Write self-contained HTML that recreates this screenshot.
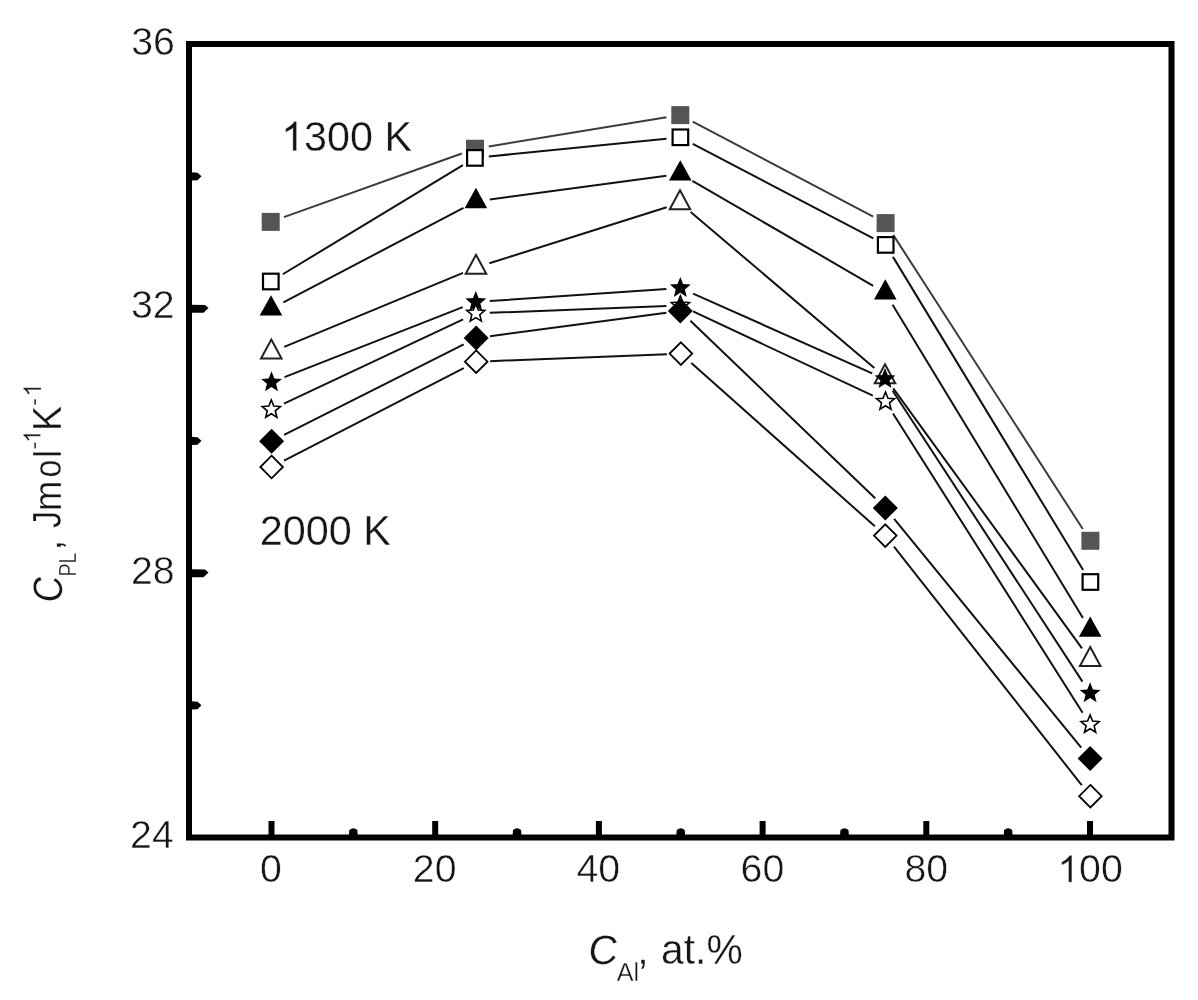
<!DOCTYPE html>
<html><head><meta charset="utf-8"><style>
html,body{margin:0;padding:0;background:#fff;}
svg{display:block;will-change:transform;}
text{font-family:"Liberation Sans",sans-serif;}
</style></head><body>
<svg width="1198" height="1000" viewBox="0 0 1198 1000">
<rect width="1198" height="1000" fill="#fff"/>
<rect x="268.50" y="821" width="6" height="15" fill="#000"/>
<rect x="432.20" y="821" width="6" height="15" fill="#000"/>
<rect x="595.90" y="821" width="6" height="15" fill="#000"/>
<rect x="759.60" y="821" width="6" height="15" fill="#000"/>
<rect x="923.30" y="821" width="6" height="15" fill="#000"/>
<rect x="1087.00" y="821" width="6" height="15" fill="#000"/>
<path d="M348.85 836 L349.35 830 Q353.35 826.5 357.35 830 L357.85 836Z" fill="#000"/>
<path d="M512.55 836 L513.05 830 Q517.05 826.5 521.05 830 L521.55 836Z" fill="#000"/>
<path d="M676.25 836 L676.75 830 Q680.75 826.5 684.75 830 L685.25 836Z" fill="#000"/>
<path d="M839.95 836 L840.45 830 Q844.45 826.5 848.45 830 L848.95 836Z" fill="#000"/>
<path d="M1003.65 836 L1004.15 830 Q1008.15 826.5 1012.15 830 L1012.65 836Z" fill="#000"/>
<path d="M191 304.80 L205 305.00 L208.5 307.90 L203.5 312.80 L191 312.80Z" fill="#000"/>
<path d="M191 569.30 L205 569.50 L208.5 572.40 L203.5 577.30 L191 577.30Z" fill="#000"/>
<path d="M191 172.25 L197.5 172.75 L201.5 176.25 L197.5 180.25 L191 180.55Z" fill="#000"/>
<path d="M191 436.75 L197.5 437.25 L201.5 440.75 L197.5 444.75 L191 445.05Z" fill="#000"/>
<path d="M191 701.25 L197.5 701.75 L201.5 705.25 L197.5 709.25 L191 709.55Z" fill="#000"/>
<path d="M283.88 217.18L461.82 153.47M488.82 146.49L666.48 117.36M692.69 121.62L873.21 216.58M893.19 234.87L1082.81 529.03" stroke="#3c3c3c" stroke-width="2" fill="none"/>
<rect x="261.70" y="212.90" width="18" height="18" fill="#555"/>
<rect x="466.00" y="139.75" width="18" height="18" fill="#555"/>
<rect x="671.30" y="106.10" width="18" height="18" fill="#555"/>
<rect x="876.60" y="214.10" width="18" height="18" fill="#555"/>
<rect x="1081.40" y="531.80" width="18" height="18" fill="#555"/>
<path d="M282.78 274.25L462.92 165.15M488.83 156.50L666.47 138.70M692.80 143.80L873.30 238.40M892.97 256.87L1083.13 570.03" stroke="#111" stroke-width="2" fill="none"/>
<rect x="263.00" y="273.70" width="15.6" height="15.6" fill="#fff" stroke="#000" stroke-width="2.2"/>
<rect x="467.10" y="150.10" width="15.6" height="15.6" fill="#fff" stroke="#000" stroke-width="2.2"/>
<rect x="672.60" y="129.50" width="15.6" height="15.6" fill="#fff" stroke="#000" stroke-width="2.2"/>
<rect x="877.90" y="237.10" width="15.6" height="15.6" fill="#fff" stroke="#000" stroke-width="2.2"/>
<rect x="1082.60" y="574.20" width="15.6" height="15.6" fill="#fff" stroke="#000" stroke-width="2.2"/>
<path d="M283.40 302.30L463.50 207.90M489.77 199.53L666.43 175.67M692.41 180.83L873.19 285.77M892.57 304.76L1082.93 618.04" stroke="#111" stroke-width="2" fill="none"/>
<polygon points="271.00,295.20 282.30,315.60 259.70,315.60" fill="#000"/>
<polygon points="475.90,187.80 487.20,208.20 464.60,208.20" fill="#000"/>
<polygon points="680.30,160.20 691.60,180.60 669.00,180.60" fill="#000"/>
<polygon points="885.30,279.20 896.60,299.60 874.00,299.60" fill="#000"/>
<polygon points="1090.20,616.40 1101.50,636.80 1078.90,636.80" fill="#000"/>
<path d="M284.24 346.85L463.06 272.85M489.35 263.28L666.65 207.22M690.67 212.06L874.33 367.94M893.22 388.33L1081.98 648.37" stroke="#111" stroke-width="2" fill="none"/>
<polygon points="271.30,339.53 281.55,358.53 261.05,358.53" fill="#fff" stroke="#222" stroke-width="2"/>
<polygon points="476.00,254.83 486.25,273.83 465.75,273.83" fill="#fff" stroke="#222" stroke-width="2"/>
<polygon points="680.00,190.33 690.25,209.33 669.75,209.33" fill="#fff" stroke="#222" stroke-width="2"/>
<polygon points="885.00,364.33 895.25,383.33 874.75,383.33" fill="#fff" stroke="#222" stroke-width="2"/>
<polygon points="1090.20,647.03 1100.45,666.03 1079.95,666.03" fill="#fff" stroke="#222" stroke-width="2"/>
<path d="M284.53 377.18L462.77 307.12M489.77 301.04L666.33 288.96M693.09 293.69L872.21 373.31M892.65 390.72L1082.45 681.58" stroke="#111" stroke-width="2" fill="none"/>
<polygon points="271.50,371.30 274.32,378.42 281.96,378.90 276.07,383.78 277.97,391.20 271.50,387.10 265.03,391.20 266.93,383.78 261.04,378.90 268.68,378.42" fill="#000"/>
<polygon points="475.80,291.00 478.62,298.12 486.26,298.60 480.37,303.48 482.27,310.90 475.80,306.80 469.33,310.90 471.23,303.48 465.34,298.60 472.98,298.12" fill="#000"/>
<polygon points="680.30,277.00 683.12,284.12 690.76,284.60 684.87,289.48 686.77,296.90 680.30,292.80 673.83,296.90 675.73,289.48 669.84,284.60 677.48,284.12" fill="#000"/>
<polygon points="885.00,368.00 887.82,375.12 895.46,375.60 889.57,380.48 891.47,387.90 885.00,383.80 878.53,387.90 880.43,380.48 874.54,375.60 882.18,375.12" fill="#000"/>
<polygon points="1090.10,682.30 1092.92,689.42 1100.56,689.90 1094.67,694.78 1096.57,702.20 1090.10,698.10 1083.63,702.20 1085.53,694.78 1079.64,689.90 1087.28,689.42" fill="#000"/>
<path d="M283.97 403.55L463.13 319.35M489.79 312.86L666.41 306.04M693.08 311.44L872.82 395.66M892.99 413.43L1082.61 712.67" stroke="#111" stroke-width="2" fill="none"/>
<polygon points="271.30,400.00 273.77,406.10 280.34,406.56 275.29,410.80 276.88,417.19 271.30,413.70 265.72,417.19 267.31,410.80 262.26,406.56 268.83,406.10" fill="#fff" stroke="#000" stroke-width="1.6"/>
<polygon points="475.80,303.90 478.27,310.00 484.84,310.46 479.79,314.70 481.38,321.09 475.80,317.60 470.22,321.09 471.81,314.70 466.76,310.46 473.33,310.00" fill="#fff" stroke="#000" stroke-width="1.6"/>
<polygon points="680.40,296.00 682.87,302.10 689.44,302.56 684.39,306.80 685.98,313.19 680.40,309.70 674.82,313.19 676.41,306.80 671.36,302.56 677.93,302.10" fill="#fff" stroke="#000" stroke-width="1.6"/>
<polygon points="885.50,392.10 887.97,398.20 894.54,398.66 889.49,402.90 891.08,409.29 885.50,405.80 879.92,409.29 881.51,402.90 876.46,398.66 883.03,398.20" fill="#fff" stroke="#000" stroke-width="1.6"/>
<polygon points="1090.10,715.00 1092.57,721.10 1099.14,721.56 1094.09,725.80 1095.68,732.19 1090.10,728.70 1084.52,732.19 1086.11,725.80 1081.06,721.56 1087.63,721.10" fill="#fff" stroke="#000" stroke-width="1.6"/>
<path d="M284.10 434.90L463.70 344.30M490.08 336.16L666.42 312.84M690.39 320.70L875.21 498.30M894.16 518.84L1081.24 747.66" stroke="#111" stroke-width="2" fill="none"/>
<polygon points="271.60,428.70 284.10,441.20 271.60,453.70 259.10,441.20" fill="#000"/>
<polygon points="476.20,325.50 488.70,338.00 476.20,350.50 463.70,338.00" fill="#000"/>
<polygon points="680.30,298.50 692.80,311.00 680.30,323.50 667.80,311.00" fill="#000"/>
<polygon points="885.30,495.50 897.80,508.00 885.30,520.50 872.80,508.00" fill="#000"/>
<polygon points="1090.10,746.00 1102.60,758.50 1090.10,771.00 1077.60,758.50" fill="#000"/>
<path d="M284.05 460.59L463.75 368.11M490.19 361.15L666.91 354.15M691.36 362.91L874.84 526.29M893.96 546.60L1081.74 785.20" stroke="#111" stroke-width="2" fill="none"/>
<polygon points="271.60,455.70 282.90,467.00 271.60,478.30 260.30,467.00" fill="#fff" stroke="#000" stroke-width="1.8"/>
<polygon points="476.20,350.40 487.50,361.70 476.20,373.00 464.90,361.70" fill="#fff" stroke="#000" stroke-width="1.8"/>
<polygon points="680.90,342.30 692.20,353.60 680.90,364.90 669.60,353.60" fill="#fff" stroke="#000" stroke-width="1.8"/>
<polygon points="885.30,524.30 896.60,535.60 885.30,546.90 874.00,535.60" fill="#fff" stroke="#000" stroke-width="1.8"/>
<polygon points="1090.40,784.90 1101.70,796.20 1090.40,807.50 1079.10,796.20" fill="#fff" stroke="#000" stroke-width="1.8"/>
<rect x="189" y="44" width="982.5" height="793.5" fill="none" stroke="#000" stroke-width="6"/>
<g>
<g transform="translate(152.90 41.00) translate(-21.75 13.50)" fill="#161616"><text font-size="39.3" stroke="#fff" stroke-width="0.50">36</text></g>
<g transform="translate(152.55 304.60) translate(-21.62 13.50)" fill="#161616"><text font-size="39.3" stroke="#fff" stroke-width="0.50">32</text></g>
<g transform="translate(152.90 570.50) translate(-22.00 13.50)" fill="#161616"><text font-size="39.3" stroke="#fff" stroke-width="0.50">28</text></g>
<g transform="translate(152.30 834.70) translate(-22.25 13.75)" fill="#161616"><text font-size="39.3" stroke="#fff" stroke-width="0.50">24</text></g>
<g transform="translate(271.00 868.95) translate(-10.88 13.50)" fill="#161616"><text font-size="39.3" stroke="#fff" stroke-width="0.50">0</text></g>
<g transform="translate(434.90 868.70) translate(-22.12 13.50)" fill="#161616"><text font-size="39.3" stroke="#fff" stroke-width="0.50">20</text></g>
<g transform="translate(598.05 868.65) translate(-21.62 13.50)" fill="#161616"><text font-size="39.3" stroke="#fff" stroke-width="0.50">40</text></g>
<g transform="translate(762.65 868.65) translate(-22.12 13.50)" fill="#161616"><text font-size="39.3" stroke="#fff" stroke-width="0.50">60</text></g>
<g transform="translate(926.40 868.65) translate(-22.00 13.50)" fill="#161616"><text font-size="39.3" stroke="#fff" stroke-width="0.50">80</text></g>
<g transform="translate(1091.40 868.70) translate(-34.12 13.50)" fill="#161616"><path d="M763 0L583 0L583 1097.9Q518 1038.6 412 979.2Q306 919.9 222 890.2L222 1056.8Q373 1124.7 486 1221.4Q599 1318.1 646 1409L763 1409Z" transform="scale(0.01919 -0.01919)" stroke="#fff" stroke-width="26.06"/><text x="21.857" font-size="39.3" stroke="#fff" stroke-width="0.50">00</text></g>
<g transform="translate(348.35 136.00) scale(0.9831 1.0102) translate(-68.38 14.50)" fill="#161616"><path d="M763 0L583 0L583 1097.9Q518 1038.6 412 979.2Q306 919.9 222 890.2L222 1056.8Q373 1124.7 486 1221.4Q599 1318.1 646 1409L763 1409Z" transform="scale(0.02051 -0.02051)" stroke="#fff" stroke-width="14.63"/><text x="23.358" font-size="42" stroke="#fff" stroke-width="0.30">300 K</text></g>
<g transform="translate(326.10 530.58) scale(0.9862 1.0051) translate(-67.25 14.50)" fill="#161616"><text font-size="42" stroke="#fff" stroke-width="0.30">2000 K</text></g>
<g transform="translate(603.70 950.05) scale(0.9905 0.9983) translate(-16.62 14.12)" fill="#161616"><g transform="skewX(-6)"><text font-size="41" stroke="#fff" stroke-width="0.30">C</text></g></g>
<g transform="translate(627.20 971.70) scale(1.0074 1.0000) translate(-10.38 9.00)" fill="#161616"><text font-size="25" stroke="#fff" stroke-width="0.30">Al</text></g>
<g transform="translate(642.90 964.95) translate(-5.75 -0.50)" fill="#161616"><text font-size="41" stroke="#fff" stroke-width="0.30">,</text></g>
<g transform="translate(702.10 949.80) scale(0.9962 1.0386) translate(-41.25 14.00)" fill="#161616"><text font-size="41" stroke="#fff" stroke-width="0.30">at.%</text></g>
<g transform="translate(47.40 588.80) scale(1.0286 0.9098) translate(13.75 16.25) rotate(-90)" fill="#161616"><g transform="skewX(-6)"><text font-size="40" stroke="#fff" stroke-width="0.30">C</text></g></g>
<g transform="translate(67.45 564.00) scale(1.0258 0.8554) translate(8.00 14.62) rotate(-90)" fill="#161616"><text font-size="23" stroke="#fff" stroke-width="0.30">PL</text></g>
<g transform="translate(61.40 545.05) translate(-0.38 5.50) rotate(-90)" fill="#161616"><text font-size="39" stroke="#fff" stroke-width="0.30">,</text></g>
<g transform="translate(47.58 520.40) scale(1.0241 0.8889) translate(13.25 8.62) rotate(-90)" fill="#161616"><text font-size="39" stroke="#fff" stroke-width="0.30">J</text></g>
<g transform="translate(50.73 495.90) scale(0.9732 0.9333) translate(10.50 16.25) rotate(-90)" fill="#161616"><text font-size="39" stroke="#fff" stroke-width="0.30">m</text></g>
<g transform="translate(50.75 468.50) scale(0.9762 0.8219) translate(10.25 10.88) rotate(-90)" fill="#161616"><text font-size="39" stroke="#fff" stroke-width="0.30">o</text></g>
<g transform="translate(47.50 453.90) scale(0.9730 0.8951) translate(14.12 4.38) rotate(-90)" fill="#161616"><text font-size="39" stroke="#fff" stroke-width="0.30">l</text></g>
<g transform="translate(34.20 445.50) translate(6.38 4.00) rotate(-90)" fill="#161616"><text font-size="24" stroke="#fff" stroke-width="0.30">-</text></g>
<g transform="translate(31.80 437.25) scale(1.0338 0.9511) translate(8.38 5.75) rotate(-90)" fill="#161616"><path d="M763 0L583 0L583 1097.9Q518 1038.6 412 979.2Q306 919.9 222 890.2L222 1056.8Q373 1124.7 486 1221.4Q599 1318.1 646 1409L763 1409Z" transform="scale(0.01172 -0.01172)" stroke="#fff" stroke-width="25.60"/></g>
<g transform="translate(47.40 417.30) scale(1.0415 0.9655) translate(13.50 14.12) rotate(-90)" fill="#161616"><text font-size="39" stroke="#fff" stroke-width="0.30">K</text></g>
<g transform="translate(34.20 402.00) translate(6.38 4.00) rotate(-90)" fill="#161616"><text font-size="24" stroke="#fff" stroke-width="0.30">-</text></g>
<g transform="translate(32.10 390.80) scale(1.0708 0.9851) translate(8.38 5.75) rotate(-90)" fill="#161616"><path d="M763 0L583 0L583 1097.9Q518 1038.6 412 979.2Q306 919.9 222 890.2L222 1056.8Q373 1124.7 486 1221.4Q599 1318.1 646 1409L763 1409Z" transform="scale(0.01172 -0.01172)" stroke="#fff" stroke-width="25.60"/></g>
</g>
</svg>
</body></html>
